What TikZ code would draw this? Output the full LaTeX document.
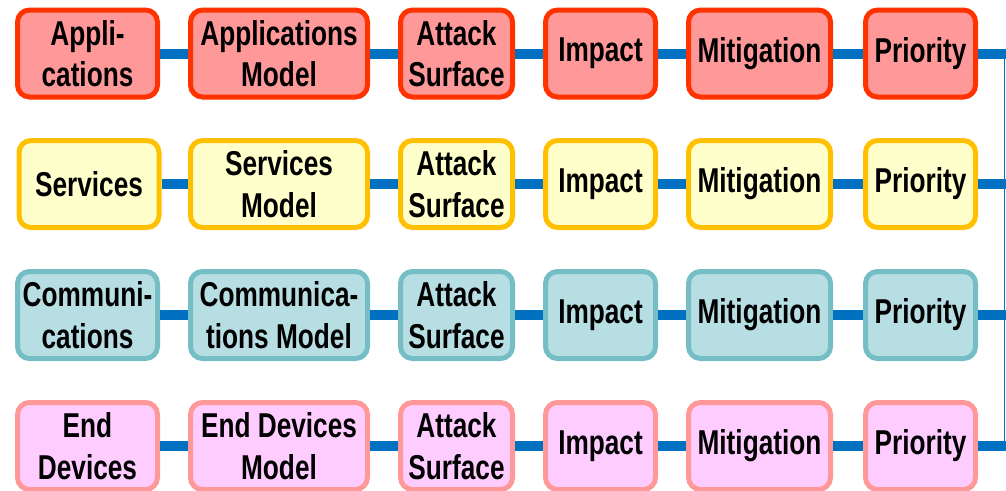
\documentclass[tikz,border=0pt]{standalone}
\usepackage{fontspec}
\setmainfont{Liberation Sans}[FakeStretch=0.76]
\usepackage{tikz}

\definecolor{appfill}{RGB}{255,153,153}
\definecolor{appline}{RGB}{255,51,0}
\definecolor{srvfill}{RGB}{255,255,204}
\definecolor{srvline}{RGB}{255,192,0}
\definecolor{comfill}{RGB}{183,222,226}
\definecolor{comline}{RGB}{118,190,198}
\definecolor{devfill}{RGB}{255,204,255}
\definecolor{devline}{RGB}{255,153,153}
\definecolor{linkblue}{RGB}{0,112,192}

\begin{document}
\begin{tikzpicture}[
		x=1pt, y=-1pt,
		box/.style={rectangle, rounded corners=12pt, line width=5pt,
			minimum height=87pt, inner sep=0pt, align=center,
			font=\fontsize{34.5}{41.5}\selectfont\bfseries},
		app/.style={box, draw=appline, fill=appfill},
		srv/.style={box, draw=srvline, fill=srvfill},
		com/.style={box, draw=comline, fill=comfill},
		dev/.style={box, draw=devline, fill=devfill},
		wa/.style={minimum width=140pt},
		wb/.style={minimum width=177pt},
		wc/.style={minimum width=112pt},
		wd/.style={minimum width=110pt},
		we/.style={minimum width=142pt},
		wf/.style={minimum width=110pt},
		link/.style={draw=linkblue, line width=10pt},
%		edge/.style={draw=linkblue, line width=1.5pt}
		]
		\useasboundingbox (0,0) rectangle (1006,490);

		% applications
		\node[app,wa] (a1) at (87.5,53.5) {Appli-\\cations};
		\node[app,wb] (a2) at (279,53.5) {Applications\\Model};
		\node[app,wc] (a3) at (456.5,53.5) {Attack\\Surface};
		\node[app,wd] (a4) at (600.5,53.5) {Impact};
		\node[app,we] (a5) at (759.5,53.5) {Mitigation};
		\node[app,wf] (a6) at (920.5,53.5) {Priority};

		% services
		\node[srv,wa] (s1) at (89,184) {Services};
		\node[srv,wb] (s2) at (279,184) {Services\\Model};
		\node[srv,wc] (s3) at (456.5,184) {Attack\\Surface};
		\node[srv,wd] (s4) at (600.5,184) {Impact};
		\node[srv,we] (s5) at (759.5,184) {Mitigation};
		\node[srv,wf] (s6) at (920.5,184) {Priority};

		% communications
		\node[com,wa] (c1) at (87.5,315) {Communi-\\cations};
		\node[com,wb] (c2) at (279,315) {Communica-\\tions Model};
		\node[com,wc] (c3) at (456.5,315) {Attack\\Surface};
		\node[com,wd] (c4) at (600.5,315) {Impact};
		\node[com,we] (c5) at (759.5,315) {Mitigation};
		\node[com,wf] (c6) at (920.5,315) {Priority};

		% end devices
		\node[dev,wa] (d1) at (87.5,446) {End\\Devices};
		\node[dev,wb] (d2) at (279,446) {End Devices\\Model};
		\node[dev,wc] (d3) at (456.5,446) {Attack\\Surface};
		\node[dev,wd] (d4) at (600.5,446) {Impact};
		\node[dev,we] (d5) at (759.5,446) {Mitigation};
		\node[dev,wf] (d6) at (920.5,446) {Priority};

		\coordinate (ea) at (1006,53.5);
		\coordinate (es) at (1006,184);
		\coordinate (ec) at (1006,315);
		\coordinate (ed) at (1006,446);
		\coordinate (ta) at (1004.5,53.5);
		\coordinate (td) at (1004.5,446);

		\draw[link] (a1) -- (a2) (a2) -- (a3) (a3) -- (a4) (a4) -- (a5) (a5) -- (a6) (a6.east) -- (ea);
		\draw[link] (s1) -- (s2) (s2) -- (s3) (s3) -- (s4) (s4) -- (s5) (s5) -- (s6) (s6.east) -- (es);
		\draw[link] (c1) -- (c2) (c2) -- (c3) (c3) -- (c4) (c4) -- (c5) (c5) -- (c6) (c6.east) -- (ec);
		\draw[link] (d1) -- (d2) (d2) -- (d3) (d3) -- (d4) (d4) -- (d5) (d5) -- (d6) (d6.east) -- (ed);
		\draw[linkblue, line width=1.5pt] (ta) -- (td);
\end{tikzpicture}
\end{document}
